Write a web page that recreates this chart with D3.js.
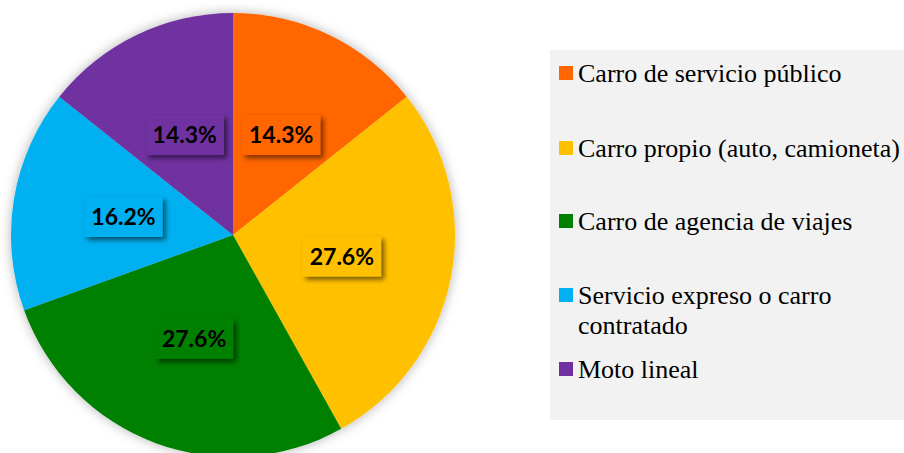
<!DOCTYPE html>
<html>
<head>
<meta charset="utf-8">
<script src="https://cdn.jsdelivr.net/npm/d3@7"></script>
<style>
  body { margin: 0; background: #fff; }
  svg { display: block; }
  .legendText { font-family: "Liberation Serif", "Times New Roman", Tinos, "DejaVu Serif", serif; font-size: 26px; }
  .pctText { font-family: Lato, "Open Sans", sans-serif; font-weight: 700; font-size: 23px; }
</style>
</head>
<body>
<svg id="chart" width="904" height="453"></svg>
<script>
"use strict";

var categories = [
  "Carro de servicio público",
  "Carro propio (auto, camioneta)",
  "Carro de agencia de viajes",
  "Servicio expreso o carro contratado",
  "Moto lineal"
];
var legendLines = [
  ["Carro de servicio público"],
  ["Carro propio (auto, camioneta)"],
  ["Carro de agencia de viajes"],
  ["Servicio expreso o carro", "contratado"],
  ["Moto lineal"]
];
var values = [14.3, 27.6, 27.6, 16.2, 14.3];
var colors = ["#FF6600", "#FFC000", "#008000", "#00B0F0", "#7030A0"];

var config = {
  cx: 233, cy: 235, r: 222,
  legend: { x: 550, y: 50, w: 360, h: 370 }
};

var svg = d3.select("#chart");
var defs = svg.append("defs");

var pieShadow = defs.append("filter").attr("id", "pieShadow")
  .attr("x", "-20%").attr("y", "-20%").attr("width", "140%").attr("height", "140%");
pieShadow.append("feDropShadow")
  .attr("dx", 0).attr("dy", 0).attr("stdDeviation", 6)
  .attr("flood-color", "#000").attr("flood-opacity", 0.3);

var boxShadow = defs.append("filter").attr("id", "boxShadow")
  .attr("x", "-30%").attr("y", "-40%").attr("width", "160%").attr("height", "180%");
boxShadow.append("feDropShadow")
  .attr("dx", 3).attr("dy", 3).attr("stdDeviation", 2.5)
  .attr("flood-color", "#000").attr("flood-opacity", 0.55);

var color = d3.scaleOrdinal().domain(categories).range(colors);

var pie = d3.pie().sort(null).value(function(d) { return d.value; });
var arc = d3.arc().innerRadius(0).outerRadius(config.r);

var data = categories.map(function(c, i) { return { name: c, value: values[i] }; });
var arcs = pie(data);

var pieG = svg.append("g")
  .attr("transform", "translate(" + config.cx + "," + config.cy + ")");

pieG.append("g")
  .attr("filter", "url(#pieShadow)")
  .selectAll("path")
  .data(arcs)
  .enter().append("path")
  .attr("d", arc)
  .attr("fill", function(d) { return color(d.data.name); });

// data labels with boxes
var labelG = pieG.selectAll("g.label")
  .data(arcs)
  .enter().append("g")
  .classed("label", true)
  .attr("transform", function(d) { return "translate(" + arc.centroid(d) + ")"; });

labelG.each(function(d) {
  var g = d3.select(this);
  var box = g.append("rect")
    .attr("fill", color(d.data.name))
    .attr("filter", "url(#boxShadow)");
  var t = g.append("text")
    .classed("pctText", true)
    .attr("text-anchor", "middle")
    .attr("dy", "0.36em")
    .attr("fill", "#000")
    .text(d.data.value.toFixed(1) + "%");
  var bb = t.node().getBBox();
  var w = bb.width + 14, h = 40;
  box.attr("x", -w / 2).attr("y", -h / 2).attr("width", w).attr("height", h);
});

// legend
var lg = svg.append("g");
lg.append("rect")
  .attr("x", config.legend.x).attr("y", config.legend.y)
  .attr("width", config.legend.w).attr("height", config.legend.h)
  .attr("fill", "#F2F2F2");

var baselines = [82, 157, 230, 304, 378];
var item = lg.selectAll("g.item")
  .data(legendLines)
  .enter().append("g")
  .classed("item", true);

item.append("rect")
  .attr("x", 559)
  .attr("y", function(d, i) { return baselines[i] - 16; })
  .attr("width", 14).attr("height", 14)
  .attr("fill", function(d, i) { return colors[i]; });

item.append("text")
  .classed("legendText", true)
  .attr("x", 578)
  .attr("y", function(d, i) { return baselines[i]; })
  .attr("fill", "#000")
  .selectAll("tspan")
  .data(function(d) { return d; })
  .enter().append("tspan")
  .attr("x", 578)
  .attr("dy", function(d, j) { return j === 0 ? 0 : 30; })
  .text(function(d) { return d; });
</script>
</body>
</html>
